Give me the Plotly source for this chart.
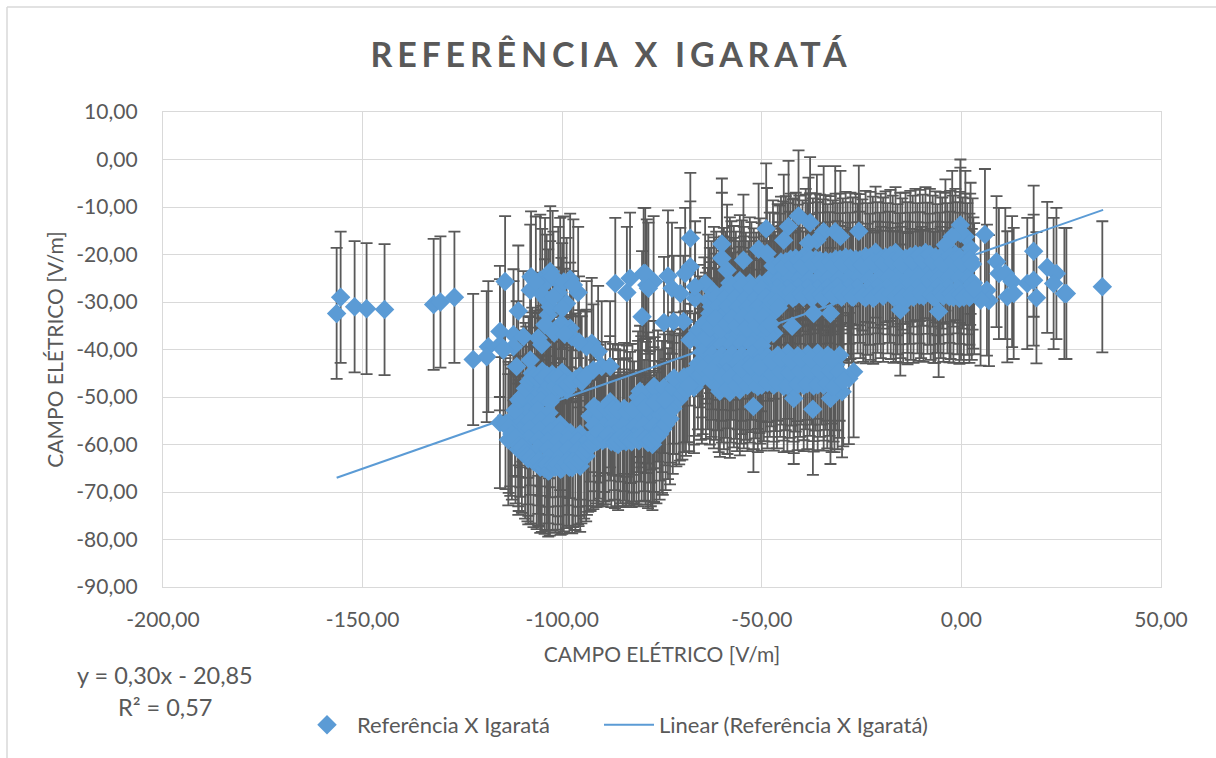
import plotly.graph_objects as go

# Pairs (campo elétrico referência, campo elétrico Igaratá), grouped by cloud
far_left = [(-156.5,-32.4),(-155.5,-29),(-152,-31),(-149,-31.4),(-144.5,-31.6),(-132.2,-30.5),(-130.5,-30),(-127,-29)]

upper_left = [(-114.3,-25.7),(-111,-31.9),(-107.8,-24.7),(-105.5,-25.4),(-103,-23.6),(-104.3,-26.1),(-108,-27.5),
 (-100.5,-26.1),(-98,-25.2),(-96,-28),(-98.9,-30.3),(-103.9,-29.6),(-103.5,-32.7),(-104.3,-34.8),(-105.1,-39),
 (-98,-35.5),(-97.6,-37.3),(-92.6,-38.7),(-93.9,-39.4),(-115.6,-36.2),(-112.2,-36.9),(-118.5,-39.4),(-115.6,-39),
 (-112.2,-39.4),(-109.7,-37.3),(-122.3,-42.1),(-118.9,-41.5),(-114.7,-40.1),(-111.4,-43.6),(-108,-42.2),(-90.1,-43.6),
 (-93.9,-45.4),(-88,-43.6),(-92.2,-44.3),(-83.8,-28),(-86.7,-26.1),(-83,-25),(-79.6,-24),(-78.8,-26.4),(-80,-33.1),
 (-77.1,-25.7),(-100.2,-34.5),(-102,-36.5),(-103,-31),(-101,-28),(-106.6,-25.8),(-102.4,-24.6),(-99.6,-25.8),(-97.2,-26.4),
 (-105,-28.4),(-102.2,-29),(-100,-31.4),(-106,-37.6),(-99.4,-36.8),(-95.8,-38.4),(-91,-40.4)]

main_blob = [(-107.5,-45),(-105,-44.6),(-102.5,-45.2),(-100,-44.8),
 (-108,-47),(-105.5,-47.2),(-103,-46.8),(-100.5,-47),(-98,-46.5),(-95.5,-45.5),
 (-109,-49),(-106.5,-49.2),(-104,-48.8),(-101.5,-49),(-98.8,-48.5),
 (-110.5,-51),(-108,-51.2),(-105.5,-50.8),(-103,-51),
 (-111,-53),(-108.5,-53.2),(-106,-52.8),(-103.3,-53.3),
 (-115.6,-55.4),(-113,-55),(-110.5,-55.2),(-108,-54.8),(-105.5,-55),(-103,-55.2),(-100.5,-55.8),
 (-113,-57),(-110.5,-57.2),(-108,-56.8),(-105.5,-57),(-103,-57.3),(-100.5,-57.2),(-98,-57.5),(-95.5,-57.8),
 (-113.5,-59),(-111,-59.2),(-108.5,-58.8),(-106,-59),(-103.5,-59.3),(-101,-59.2),(-98.5,-59),(-96,-59.3),(-93.5,-59.1),(-91,-59.2),
 (-111,-61),(-108.5,-61.2),(-106,-60.8),(-103.5,-61),(-101,-61.3),(-98.5,-61),(-96,-61.2),(-93.5,-60.4),
 (-108.5,-63),(-106,-63.2),(-103.5,-62.8),(-101,-63),(-98.5,-63.3),(-96,-63),(-94,-62.4),
 (-105.5,-64.8),(-103.5,-65.6),(-100,-65),(-97.5,-64.9),(-95.5,-64.6)]

main_fill = [(-114.2,-55.6),(-113.4,-56.4),(-112.6,-57.8),(-111.7,-58.6),(-110.9,-60.2),(-110.1,-60.6),(-109.3,-61.8),(-108.7,-62.4),
 (-107.9,-62.8),(-107.2,-63.6),(-106.4,-64),(-105.8,-63.5),(-105.1,-64.6),(-104.4,-65),(-103.9,-64.2),(-103.1,-65.4),(-102.4,-64.4),
 (-101.7,-64.8),(-101.1,-64.1),(-100.4,-65.2),(-99.6,-64.5),(-99,-63.8),(-98.2,-64.8),(-97.3,-63.6),(-96.7,-64.2),(-95.9,-63.4),
 (-95.2,-62.8),(-94.5,-61.8),(-93.8,-61),(-92.9,-60.2),(-92.2,-59.8),(-91.4,-59.4),
 (-111.8,-52.8),(-110.9,-50.6),(-110,-49.8),(-109.2,-48.2),(-108.4,-46.8),(-107.6,-46),(-106.9,-45.6),(-106.1,-46.2),(-105.4,-45.4),
 (-104.7,-46),(-103.8,-45.4),(-103.2,-47.6),(-102.2,-46.2),(-101.6,-47.8),(-100.9,-46),(-100.1,-48.2),(-99.4,-47),(-98.6,-47.4),
 (-97.4,-46.8),(-96.6,-46.2),(-95.1,-46.8),(-94.2,-45.8)]

mid_blob = [(-92,-52),(-88,-51),(-84.5,-52.4),(-81,-52),(-78,-51.5),(-75,-52),
 (-93,-54),(-90.5,-54.2),(-88,-53.8),(-85.5,-54),(-83,-54.3),(-80.5,-54),(-78,-54.2),(-75.5,-53.8),(-73.5,-53.5),
 (-92,-56),(-89.5,-56.2),(-87,-55.8),(-84.5,-56),(-82,-56.3),(-79.5,-56),(-77,-56.2),(-75,-56.4),
 (-92,-58),(-89.5,-58.2),(-87,-57.8),(-84.5,-58),(-82,-58.2),(-79.5,-58),(-77,-58.3),
 (-89.7,-58.8),(-86,-60),(-84,-59.4),(-82.2,-58.6),(-77.4,-60),
 (-81,-50),(-78.5,-50.2),(-76,-49.8),(-73,-50),(-70.5,-49.6),
 (-80.5,-48.8),(-77,-47.8),(-74.5,-48),(-72,-48.2),(-69.5,-47.8),(-67,-48),
 (-72,-46),(-69.5,-45.8),(-67,-46.2),(-65,-46),(-68.7,-45.7)]

mid_fill = [(-91.3,-58.6),(-90.6,-57.6),(-89.9,-59.2),(-89.1,-58.8),(-88.4,-58),(-87.7,-59.4),(-86.8,-59.6),(-86.2,-59.2),(-85.4,-58.6),
 (-84.8,-59.2),(-83.7,-58.6),(-83.2,-59),(-82.6,-59.4),(-81.4,-58.8),(-80.8,-59.2),(-80.1,-58.2),(-79.1,-58.8),(-78.5,-59.6),(-77.8,-59.2),
 (-76.4,-58.6),(-75.6,-57.8),(-74.8,-56.8),(-74.1,-55.8),(-73,-54.6),(-72.3,-52.4),(-71.4,-50.8),(-70.7,-50.4),(-69.9,-49.4),(-69,-48.6),
 (-68.2,-47.6),(-90.9,-52.8),(-89.2,-52.2),(-87.3,-52.6),(-86,-52.8),(-83.8,-53),(-82.4,-52.6),(-80.2,-51),(-79,-52.2),(-76.8,-51.2),(-74.2,-50.6)]

lone_points = [(-67.9,-16.6),(-60,-17.8),(-48.9,-14.6),(-40.8,-11.9),(-37.9,-13.3),(-43.3,-14.1),(-44.5,-17),
 (-50.8,-18.9),(-48.7,-19.8),(-25.7,-15.1),(-34.5,-15.2),(-31.6,-15.2),(-36.2,-17),(-38.3,-17.6),(-30.3,-16.2),
 (-0.25,-13.8),(5.9,-15.8),(18.1,-19.3),(35.3,-26.8),(21.5,-22.7),(23.8,-24),(23.1,-26.1),(25.8,-28.2),(26.3,-28.2),
 (18.8,-29.1),(16.5,-26.1),(18.1,-25.4),(8.8,-21.5),(9.4,-24),(11,-24),(12.7,-25.7),(11.5,-28.9),(13.1,-28.2),
 (6.4,-27.5),(6.9,-29.7),(4.8,-29.6),(2.3,-18.7),(1,-16.2),(-0.25,-15.5),(-2.3,-16.2),(-5.7,-32),(-15.3,-31.7),
 (-4,-18),(-67.9,-22.6),(-69.2,-24),(-73.5,-24.5),(-79.2,-24),(-78.4,-27.1),(-72.5,-27.1),(-70.4,-28.2),(-66.7,-29.2),
 (-64.2,-26.1),(-66.7,-26.8),(-60,-20.8),(-54.6,-21.2),(-58.7,-23.3),(-47,-36.6),(-42.4,-35.1),(-37,-32.4),(-32.8,-32.4),
 (-52.1,-52),(-37.2,-52.6),(-42,-50.3),(-32.8,-50.3),(-29.9,-48.9),(-27,-44.7),(-28.2,-46.1),(-30.5,-41.2),
 (-72.1,-34.1),(-69.6,-34.1),(-74.5,-34.3),(-39,-20),(-42,-22),(-45.5,-23.5),(-47,-25)]

upper_band = [(-44,-21.5),(-41.5,-20.8),(-39,-21.2),(-36.5,-21),(-34,-21.3),(-31.5,-21),(-29,-20.6),(-26.5,-21),(-24,-20.4),(-21.5,-19.5),
 (-19,-20.5),(-16.5,-19.6),(-14,-20.8),(-11.5,-20),(-9,-19.6),(-6.5,-20.5),(-4,-20.8),(-1.5,-20),(1,-21),
 (-46,-23.2),(-43.5,-23),(-41,-23.3),(-38.5,-23),(-36,-22.8),(-33.5,-23.2),(-31,-23),(-28.5,-22.8),(-26,-23.1),(-23.5,-23),(-21,-22.8),
 (-18.5,-23),(-16,-23.2),(-13.5,-22.8),(-11,-23),(-8.5,-22.9),(-6,-23.2),(-3.5,-23),(-1,-22.8),(1.5,-23),
 (-48,-25),(-45.5,-25.2),(-43,-24.8),(-40.5,-25),(-38,-25.3),(-35.5,-25),(-33,-24.9),(-30.5,-25.1),(-28,-25),(-25.5,-24.8),(-23,-25.2),
 (-20.5,-25),(-18,-24.8),(-15.5,-25.1),(-13,-25),(-10.5,-24.9),(-8,-25.2),(-5.5,-25),(-3,-24.8),(-0.5,-25),(2,-25.2),(3,-26),
 (-46,-27),(-43.5,-27.2),(-41,-26.9),(-38.5,-27),(-36,-27.2),(-33.5,-27),(-31,-26.8),(-28.5,-27.1),(-26,-27),(-23.5,-27.3),(-21,-26.9),
 (-18.5,-27),(-16,-27.2),(-13.5,-26.9),(-11,-27),(-8.5,-27.1),(-6,-26.9),(-3.5,-27),(-1,-27.2),(1.5,-27.3),
 (-44,-29),(-41.5,-28.8),(-37.5,-29.2),(-34,-28.7),(-30,-29),(-27.5,-28.9),(-24,-29.1),(-21.5,-28.8),(-17,-29),(-13.5,-29.3),
 (-10.5,-28.6),(-7,-29),(-3,-28.9),(-0.5,-29.2),(2,-29)]

upper_fill = [(-47.2,-22.4),(-45.2,-21.6),(-44.6,-22.6),(-42.8,-21),(-42.2,-22.2),(-40.6,-21.4),(-39.8,-22.4),(-37.9,-20.9),(-37.2,-22),(-35.4,-21.2),
 (-34.7,-22.2),(-32.8,-21.5),(-32.2,-22.4),(-30.4,-21),(-29.7,-22),(-27.8,-20.8),(-27.2,-21.8),(-25.4,-21.1),(-24.8,-22.2),(-22.8,-20.6),(-22.2,-21.6),
 (-20.2,-21),(-19.6,-21.8),(-17.8,-20.2),(-17.2,-21.4),(-15.3,-20.8),(-14.8,-22),(-12.8,-20.4),(-12.2,-21.4),(-10.4,-20.2),(-9.7,-21.2),(-7.9,-20),
 (-7.2,-21.4),(-5.3,-20.6),(-4.8,-21.8),(-2.8,-20.4),(-2.1,-21.4),(-0.4,-20.6),(0.3,-21.8),(2.2,-21),(2.8,-22),
 (-47.7,-28),(-46.7,-29),(-45.1,-27.8),(-44.6,-28.6),(-42.7,-27.9),(-42.2,-29.2),(-40.3,-28.2),(-39.6,-29),(-37.8,-28),(-37,-28.8),(-35.3,-28.4),
 (-34.6,-29.2),(-32.7,-28),(-32.1,-28.8),(-30.3,-27.8),(-29.5,-28.6),(-27.8,-28.2),(-27.1,-29),(-25.3,-28),(-24.6,-28.8),(-22.8,-28.4),(-22.1,-29.2),
 (-20.2,-28),(-19.6,-28.8),(-17.7,-28.2),(-16.4,-28.8),(-15.2,-28),(-14.6,-29),(-12.7,-28.4),(-12,-29),(-10.1,-28),(-9.5,-28.8),(-7.7,-28.4),
 (-6.6,-29),(-5.2,-28),(-4.5,-28.8),(-2.7,-28.2),(-2,-29),(-0.1,-28.4),(0.6,-29),(2.6,-28.4),(3.2,-27.2)]

core = [(-58,-26),(-55.5,-25.5),(-53,-26),(-50.5,-26.2),
 (-62,-28),(-59.5,-28.2),(-57,-27.8),(-54.5,-28),(-52,-28.3),(-49.5,-28),(-47,-28.4),
 (-62,-30.2),(-59.5,-30),(-57,-30.3),(-54.5,-30),(-52,-30.2),(-49.5,-30),(-47,-31),
 (-63,-32.4),(-60.5,-32.2),(-58,-32.5),(-55.5,-32.2),(-53,-32.4),(-50.5,-32.2),(-48,-33),
 (-62,-34.6),(-59.5,-34.4),(-57,-34.7),(-54.5,-34.4),(-52,-34.6),(-49.5,-34.4),
 (-66,-36),(-63.5,-36.6),(-61,-36.8),(-58.5,-36.6),(-56,-36.8),(-53.5,-36.6),(-51,-37),(-48.5,-37),
 (-68,-38),(-65.5,-38.4),(-62.5,-38.8),(-60,-38.9),(-57.5,-39),(-55,-38.8),(-52.5,-39),(-50,-39.2),
 (-65,-40.5),(-62.5,-41),(-60,-41.2),(-57.5,-41),(-55,-41.2),(-52.5,-41),(-50,-41.3)]

core_fill = [(-63.4,-29.6),(-62.6,-31),(-61.4,-29),(-60.7,-30.8),(-60,-33),(-59,-29),(-58.4,-30.8),(-57.6,-26.8),(-56.5,-29),(-55.9,-31),(-55,-26.6),
 (-54,-29.2),(-53.4,-31),(-52.6,-27),(-51.4,-29.2),(-50.8,-31),(-50,-27.2),(-48.9,-29),(-48.3,-31),(-47.6,-29.8),(-46.4,-30),(-45.8,-31.2),
 (-64.4,-34.4),(-64,-37.6),(-63,-35.4),(-61.6,-33.6),(-60.3,-35.8),(-58.8,-34.6),(-57.4,-33.4),(-56.2,-35),(-54.8,-33.2),(-53.8,-35.4),(-52.3,-33.2),
 (-51.2,-35),(-49.8,-33.2),(-48.8,-35.4),(-47.8,-34.6)]

lower_band = [(-66,-43),(-63.5,-43),(-61,-43.2),(-58.5,-42.8),(-56,-43),(-53.5,-43.1),(-51,-42.9),(-48.5,-41.5),(-46,-41.2),(-43.5,-40.8),
 (-41,-41.3),(-38.5,-41),(-36,-40.8),(-33.5,-41.2),
 (-64,-45),(-61.5,-45.2),(-59,-44.8),(-56.5,-45),(-54,-45.2),(-51.5,-44.9),(-49,-43.5),(-46.5,-43.4),(-44,-43.2),(-41.5,-43.5),(-39,-43),
 (-36.5,-43.3),(-34,-43.1),(-31.5,-43.2),
 (-62,-47),(-59.5,-47.2),(-57,-46.8),(-54.5,-47),(-52,-47.2),(-49.5,-45.5),(-47,-45.6),(-44.5,-45.4),(-42,-45.6),(-39.5,-45.3),(-37,-45.5),
 (-34.5,-45.4),(-32,-45.6),(-60.5,-48.8),(-58,-49),(-55.5,-48.5),(-50,-47.5),(-47,-47.5),(-44.5,-47.8),(-42,-48),(-39.5,-47.6),(-37,-47.7),
 (-34.5,-47.5),(-32.5,-47.8)]

lower_fill = [(-66.8,-44.4),(-65.2,-45.2),(-64.8,-44),(-63,-46.2),(-62.6,-44.6),(-60.8,-47.8),(-60,-45.8),(-58.6,-48.2),(-57.8,-45.8),(-56.2,-47.6),(-55.2,-46),
 (-53.6,-47.6),(-53,-45.8),(-51,-47.8),(-50.4,-46),(-48.6,-47),(-48,-44.6),(-46.2,-47),(-45.4,-44.6),(-43.6,-47.6),(-43,-44.8),(-41,-47.4),(-40.4,-44.6),
 (-38.6,-47.2),(-38,-44.4),(-36,-47.4),(-35.4,-44.6),(-33.6,-47),(-33,-44.4),(-31,-47.2),(-30.6,-44.8),(-31.8,-47.8),(-29.6,-46.6),
 (-55,-44),(-52.8,-43.6),(-50.6,-43.8),(-47.6,-42.4),(-45.2,-42),(-42.6,-42.2),(-40.2,-42),(-37.6,-42),(-35,-42),(-32.6,-41.8)]

error_value = 13.8
trend_x = [-156.5, 35.5]
trend_y = [-67.0, -10.6]

x_tick_values = [-200, -150, -100, -50, 0, 50]
x_tick_labels = ["-200,00", "-150,00", "-100,00", "-50,00", "0,00", "50,00"]
y_tick_values = [10, 0, -10, -20, -30, -40, -50, -60, -70, -80, -90]
y_tick_labels = ["10,00", "0,00", "-10,00", "-20,00", "-30,00", "-40,00", "-50,00", "-60,00", "-70,00", "-80,00", "-90,00"]

points = (far_left + upper_left + main_blob + main_fill + mid_blob + mid_fill + lone_points
          + upper_band + upper_fill + core + core_fill + lower_band + lower_fill)
xs = [p[0] for p in points]
ys = [p[1] for p in points]

GREY = "#595959"
GRID = "#D9D9D9"
BLUE = "#5B9BD5"
FONT = "Lato"
W, H = 1216, 758
L, R, T, B = 163, 1161, 112, 587

fig = go.Figure()
# error bars first, the trend line over them, the markers over both
fig.add_trace(go.Scatter(x=xs, y=ys, mode="markers", showlegend=False, hoverinfo="skip",
    marker=dict(size=1, opacity=0),
    error_y=dict(type="constant", value=error_value, color=GREY, thickness=1.8, width=6)))
fig.add_trace(go.Scatter(x=trend_x, y=trend_y, mode="lines", name="Linear (Referência X Igaratá)",
    line=dict(color=BLUE, width=2), legend="legend2"))
fig.add_trace(go.Scatter(x=xs, y=ys, mode="markers", name="Referência X Igaratá",
    marker=dict(symbol="diamond", size=15, color=BLUE), legend="legend"))

axis_common = dict(showgrid=True, gridcolor=GRID, gridwidth=1.4, zeroline=False, showline=True, linecolor=GRID,
    linewidth=1.4, mirror=True, tickmode="array", ticks="outside", tickcolor="rgba(0,0,0,0)",
    tickfont=dict(family=FONT, size=21, color=GREY))

legend_common = dict(orientation="h", y=(B-725)/(B-T), xanchor="left", yanchor="middle",
    font=dict(family=FONT, size=22, color=GREY), itemwidth=50, bgcolor="rgba(0,0,0,0)")

fig.update_layout(
    width=W, height=H, margin=dict(l=L, r=W-R, t=T, b=H-B), autosize=False,
    paper_bgcolor="white", plot_bgcolor="white", font=dict(family=FONT, color=GREY),
    title=dict(text="<b>REFERÊNCIA X IGARATÁ</b>", font=dict(family=FONT, size=34, color=GREY),
               xref="container", yref="container", x=611/W, y=1-55/H, xanchor="center", yanchor="middle"),
    xaxis=dict(range=[-200, 50], tickvals=x_tick_values, ticktext=x_tick_labels, ticklen=14,
               title=dict(text="CAMPO ELÉTRICO [V/m]", font=dict(family=FONT, size=21, color=GREY), standoff=16), **axis_common),
    yaxis=dict(range=[-90, 10], tickvals=y_tick_values, ticktext=y_tick_labels, ticklen=20,
               title=dict(text="CAMPO ELÉTRICO [V/m]", font=dict(family=FONT, size=21, color=GREY), standoff=6), **axis_common),
    legend=dict(x=(297-L)/(R-L), **legend_common),
    legend2=dict(x=(599-L)/(R-L), **legend_common),
    annotations=[
        dict(text="y = 0,30x - 20,85", xref="paper", yref="paper", x=(165-L)/(R-L), y=(B-675)/(B-T), showarrow=False,
             xanchor="center", yanchor="middle", font=dict(family=FONT, size=23.5, color=GREY)),
        dict(text="R² = 0,57", xref="paper", yref="paper", x=(165-L)/(R-L), y=(B-707)/(B-T), showarrow=False,
             xanchor="center", yanchor="middle", font=dict(family=FONT, size=23.5, color=GREY)),
    ],
    shapes=[
        dict(type="line", xref="paper", yref="paper", layer="below", x0=(7-L)/(R-L), x1=(7-L)/(R-L), y0=(B-H)/(B-T), y1=(B-7)/(B-T),
             line=dict(color=GRID, width=1.5)),
        dict(type="line", xref="paper", yref="paper", layer="below", x0=(7-L)/(R-L), x1=(W-L)/(R-L), y0=(B-7)/(B-T), y1=(B-7)/(B-T),
             line=dict(color=GRID, width=1.5)),
    ],
)

post = """
document.body.style.margin='0';
var t=document.querySelector('.gtitle'); if(t){t.style.letterSpacing='4.8px';}
"""
fig.write_html("out.html", post_script=post, config={"displayModeBar": False})
